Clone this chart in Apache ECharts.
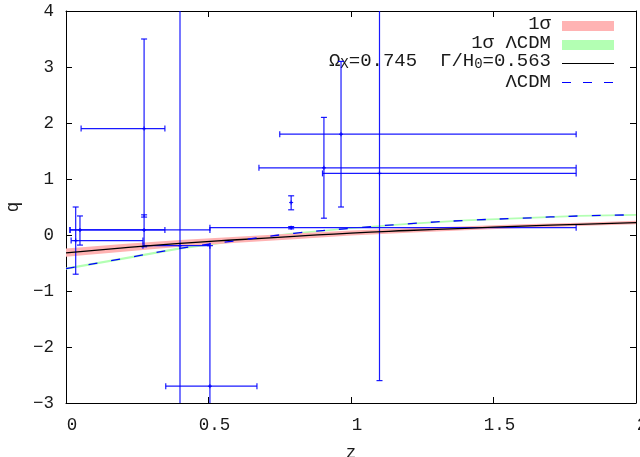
<!DOCTYPE html>
<html>
<head>
<meta charset="utf-8">
<script src="https://cdn.jsdelivr.net/npm/echarts@6/dist/echarts.min.js"></script>
<style>
html,body{margin:0;padding:0;background:#fff;}
#chart{width:640px;height:457px;}
</style>
</head>
<body>
<div id="chart"></div>
<script>
// ---- tick labels ----
const xTicks = [0, 0.5, 1, 1.5, 2];
const yTicks = [-3, -2, -1, 0, 1, 2, 3, 4];

// ---- model curve (Omega_X=0.745, Gamma/H0=0.563) and its 1 sigma band ----
const curveZ   = [0, 0.2, 0.4, 0.6, 0.8, 1.0, 1.2, 1.4, 1.6, 1.8, 2.0];
const modelQ   = [-0.32, -0.23, -0.15, -0.085, -0.025, 0.035, 0.08, 0.12, 0.16, 0.19, 0.22];
const modelHi  = [-0.24, -0.16, -0.09, -0.03, 0.025, 0.08, 0.12, 0.155, 0.19, 0.22, 0.255];
const modelLo  = [-0.39, -0.30, -0.21, -0.14, -0.075, -0.01, 0.04, 0.085, 0.125, 0.16, 0.19];

// ---- LambdaCDM curve and its 1 sigma band ----
const lcdmQ    = [-0.60, -0.42, -0.24, -0.10, 0.03, 0.12, 0.20, 0.26, 0.30, 0.34, 0.36];
const lcdmHi   = [-0.58, -0.40, -0.22, -0.08, 0.045, 0.135, 0.215, 0.275, 0.315, 0.355, 0.375];
const lcdmLo   = [-0.62, -0.44, -0.26, -0.12, 0.015, 0.105, 0.185, 0.245, 0.285, 0.325, 0.345];

// ---- data points with error bars ----
const errZ   = [0.274, 0.274, 0.034, 0.049, 0.400, 0.505, 0.790, 0.790, 0.905, 0.965, 1.100];
const errQ   = [1.90, 0.09, -0.10, 0.09, -0.19, -2.70, 0.13, 0.58, 1.20, 1.80, 1.10];
const errZLo = [0.053, 0.014, 0.018, 0.014, 0.270, 0.350, 0.505, 0.790, 0.677, 0.750, 0.900];
const errZHi = [0.347, 0.505, 0.270, 0.347, 0.505, 0.670, 1.790, 0.790, 1.790, 1.790, 1.790];
const errQLo = [0.32, -0.21, -0.70, -0.18, -4.50, -3.50, 0.11, 0.45, 0.30, 0.50, -2.60];
const errQHi = [3.50, 0.36, 0.50, 0.34, 4.50, -0.19, 0.15, 0.70, 2.10, 3.10, 4.60];

const FONT = '"Liberation Mono", "DejaVu Sans Mono", monospace';
const TXT = '#1a1a1a';
const PINK = '#ffb3b3';
const GREEN = '#b3ffb3';
const BLUE = '#0000ff';
const LEGF = 19;

function bandSeries(zs, lo, hi, color, zlev) {
  return {
    type: 'custom',
    silent: true,
    z: zlev,
    data: [[zs[0], lo[0]]],
    renderItem: function (params, api) {
      const pts = [];
      for (let i = 0; i < zs.length; i++) pts.push(api.coord([zs[i], hi[i]]));
      for (let i = zs.length - 1; i >= 0; i--) pts.push(api.coord([zs[i], lo[i]]));
      return { type: 'polygon', shape: { points: pts }, style: { fill: color } };
    }
  };
}

const chart = echarts.init(document.getElementById('chart'), null, { renderer: 'canvas' });

const axisCommon = {
  type: 'value',
  splitLine: { show: false },
  axisLine: { show: true, onZero: false, lineStyle: { color: '#000', width: 1 } },
  axisTick: { show: true, inside: true, length: 6, lineStyle: { color: '#000', width: 1 } }
};

const option = {
  backgroundColor: '#fff',
  animation: false,
  grid: { left: 66, right: 4, top: 11, bottom: 54, containLabel: false, outerBoundsMode: 'none' },
  xAxis: [
    Object.assign({}, axisCommon, {
      min: xTicks[0], max: xTicks[xTicks.length - 1], interval: 0.5,
      position: 'bottom',
      name: 'z', nameLocation: 'middle', nameGap: 41,
      nameTextStyle: { fontFamily: FONT, fontSize: 17.5, color: TXT },
      axisLabel: {
        fontFamily: FONT, fontSize: 17.5, color: TXT, margin: 13,
        padding: [0, 0, 0, 12], showMaxLabel: true,
        formatter: function (v) { return String(v); }
      }
    }),
    Object.assign({}, axisCommon, {
      min: xTicks[0], max: xTicks[xTicks.length - 1], interval: 0.5,
      position: 'top', axisLabel: { show: false }
    })
  ],
  yAxis: [
    Object.assign({}, axisCommon, {
      min: yTicks[0], max: yTicks[yTicks.length - 1], interval: 1,
      position: 'left',
      name: 'q', nameLocation: 'middle', nameGap: 44, nameRotate: 90,
      nameTextStyle: { fontFamily: FONT, fontSize: 17.5, color: TXT },
      axisLabel: {
        fontFamily: FONT, fontSize: 17.5, color: TXT, margin: 12,
        formatter: function (v) { return String(v).replace('-', '\u2212'); }
      }
    }),
    Object.assign({}, axisCommon, {
      min: yTicks[0], max: yTicks[yTicks.length - 1], interval: 1,
      position: 'right', axisLabel: { show: false }
    })
  ],
  series: [
    bandSeries(curveZ, lcdmLo, lcdmHi, GREEN, 1),
    bandSeries(curveZ, modelLo, modelHi, PINK, 2),
    {
      type: 'custom',
      name: 'data',
      z: 3,
      clip: true,
      data: errZ.map(function (z, i) { return [z, errQ[i]]; }),
      renderItem: function (params, api) {
        const i = params.dataIndex;
        const c = api.coord([errZ[i], errQ[i]]);
        const xl = api.coord([errZLo[i], errQ[i]]);
        const xh = api.coord([errZHi[i], errQ[i]]);
        const yl = api.coord([errZ[i], errQLo[i]]);
        const yh = api.coord([errZ[i], errQHi[i]]);
        const st = { stroke: BLUE, lineWidth: 1.2, opacity: 0.9 };
        const cap = 3;
        const ch = [];
        function seg(x1, y1, x2, y2) {
          ch.push({ type: 'line', shape: { x1: x1, y1: y1, x2: x2, y2: y2 }, style: st });
        }
        seg(yl[0], yl[1], yh[0], yh[1]);
        seg(yl[0] - cap, yl[1], yl[0] + cap, yl[1]);
        seg(yh[0] - cap, yh[1], yh[0] + cap, yh[1]);
        if (errZHi[i] > errZLo[i]) {
          seg(xl[0], xl[1], xh[0], xh[1]);
          seg(xl[0], xl[1] - cap, xl[0], xl[1] + cap);
          seg(xh[0], xh[1] - cap, xh[0], xh[1] + cap);
        }
        seg(c[0] - 2, c[1], c[0] + 2, c[1]);
        seg(c[0], c[1] - 2, c[0], c[1] + 2);
        return { type: 'group', children: ch };
      }
    },
    {
      type: 'line', name: 'model', z: 4,
      data: curveZ.map(function (z, i) { return [z, modelQ[i]]; }),
      smooth: true, symbol: 'none',
      lineStyle: { color: '#000', width: 1.3 }
    },
    {
      type: 'line', name: 'LCDM', z: 5,
      data: curveZ.map(function (z, i) { return [z, lcdmQ[i]]; }),
      smooth: true, symbol: 'none',
      lineStyle: { color: BLUE, width: 1.3, type: [9, 14] }
    }
  ],
  graphic: [
    { type: 'text', right: 640 - 551, top: 14, style: { text: '1\u03c3', font: LEGF + 'px ' + FONT, fill: TXT, textAlign: 'right' } },
    { type: 'rect', shape: { x: 562, y: 21, width: 52, height: 10 }, style: { fill: PINK } },
    { type: 'text', right: 640 - 551, top: 33, style: { text: '1\u03c3 \u039bCDM', font: LEGF + 'px ' + FONT, fill: TXT, textAlign: 'right' } },
    { type: 'rect', shape: { x: 562, y: 40, width: 52, height: 10 }, style: { fill: GREEN } },
    {
      type: 'text', right: 640 - 551, top: 51,
      style: {
        text: '{n|\u03a9}{s|X}{n|=0.745  \u0393/H}{s|0}{n|=0.563}',
        fill: TXT, textAlign: 'right',
        rich: {
          n: { fontFamily: FONT, fontSize: LEGF, lineHeight: 21, verticalAlign: 'middle', fill: TXT },
          s: { fontFamily: FONT, fontSize: 14, lineHeight: 10, verticalAlign: 'bottom', fill: TXT }
        }
      }
    },
    { type: 'line', shape: { x1: 562, y1: 63.5, x2: 614, y2: 63.5 }, style: { stroke: '#000', lineWidth: 1 } },
    { type: 'text', right: 640 - 551, top: 72, style: { text: '\u039bCDM', font: LEGF + 'px ' + FONT, fill: TXT, textAlign: 'right' } },
    { type: 'line', shape: { x1: 562, y1: 82.5, x2: 614, y2: 82.5 }, style: { stroke: BLUE, lineWidth: 1, lineDash: [9, 12] } }
  ]
};

chart.setOption(option);
</script>
</body>
</html>
